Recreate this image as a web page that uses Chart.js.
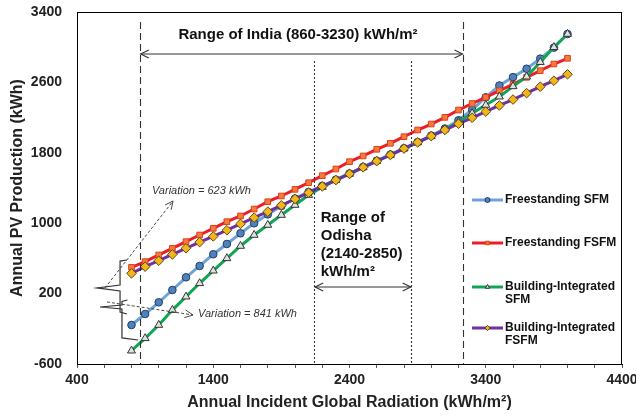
<!DOCTYPE html>
<html>
<head>
<meta charset="utf-8">
<script src="https://cdn.jsdelivr.net/npm/chart.js@4.4.1/dist/chart.umd.min.js"></script>
<style>
html, body { margin: 0; padding: 0; background: #fff; }
#wrap { width: 636px; height: 416px; }
</style>
</head>
<body>
<div id="wrap"><canvas id="pv-chart" width="636" height="416"></canvas></div>
<script>
// annual incident global radiation (kWh/m2), one point every 100
const radiation = [800, 900, 1000, 1100, 1200, 1300, 1400, 1500, 1600, 1700, 1800,
    1900, 2000, 2100, 2200, 2300, 2400, 2500, 2600, 2700, 2800, 2900, 3000,
    3100, 3200, 3300, 3400, 3500, 3600, 3700, 3800, 3900, 4000];

// annual PV production (kWh)
const freestandingSFM = [-157, -32, 101, 241, 385, 514, 647, 764, 885, 999, 1100,
    1195, 1280, 1355, 1425, 1495, 1565, 1640, 1710, 1780, 1852, 1922, 1995,
    2075, 2170, 2290, 2430, 2565, 2660, 2755, 2870, 2995, 3150];
const freestandingFSFM = [499, 563, 639, 715, 790, 866, 942, 1017, 1082, 1161, 1244,
    1309, 1385, 1460, 1540, 1616, 1699, 1764, 1840, 1908, 1983, 2059, 2127,
    2203, 2286, 2360, 2430, 2506, 2578, 2658, 2733, 2809, 2874];
const buildingSFM = [-449, -308, -157, 13, 165, 317, 460, 601, 741, 866, 980,
    1093, 1207, 1320, 1410, 1490, 1560, 1635, 1705, 1775, 1848, 1918, 1990,
    2065, 2150, 2249, 2343, 2438, 2555, 2665, 2830, 3000, 3150];
const buildingFSFM = [430, 506, 574, 645, 715, 785, 850, 920, 992, 1063, 1131,
    1203, 1275, 1347, 1418, 1490, 1560, 1635, 1705, 1775, 1848, 1918, 1990,
    2059, 2130, 2198, 2268, 2338, 2405, 2478, 2551, 2619, 2692];

const xTickLabels = [400, 1400, 2400, 3400, 4400];
const yTicks = [-600, 200, 1000, 1800, 2600, 3400];

const FONT = "'Liberation Sans', Arial, sans-serif";

function points(values) {
    return radiation.map((x, i) => ({ x: x, y: values[i] }));
}

// 图例（画在绘图区内部右侧）
const series = [
    { label: ['Freestanding SFM'], line: '#6fa3d8', fill: '#4f81bd', edge: '#1f3f66', style: 'circle' },
    { label: ['Freestanding FSFM'], line: '#ee1c24', fill: '#f7793b', edge: '#d9401f', style: 'rect' },
    { label: ['Building-Integrated', 'SFM'], line: '#12a454', fill: '#dfe3dd', edge: '#333333', style: 'triangle' },
    { label: ['Building-Integrated', 'FSFM'], line: '#7030a0', fill: '#f2b51c', edge: '#5c4a10', style: 'rectRot' }
];

function arrowHead(ctx, x1, y1, x2, y2) {
    const a = Math.atan2(y2 - y1, x2 - x1);
    const len = 9, spread = 0.45;
    ctx.beginPath();
    ctx.moveTo(x2 - len * Math.cos(a - spread), y2 - len * Math.sin(a - spread));
    ctx.lineTo(x2, y2);
    ctx.lineTo(x2 - len * Math.cos(a + spread), y2 - len * Math.sin(a + spread));
    ctx.stroke();
}

function arrow(ctx, x1, y1, x2, y2, both, dash) {
    ctx.save();
    ctx.setLineDash(dash || []);
    ctx.beginPath();
    ctx.moveTo(x1, y1);
    ctx.lineTo(x2, y2);
    ctx.stroke();
    ctx.setLineDash([]);
    arrowHead(ctx, x1, y1, x2, y2);
    if (both) arrowHead(ctx, x2, y2, x1, y1);
    ctx.restore();
}

const frame = {
    id: 'frame',
    beforeDatasetsDraw(chart) {
        const { ctx, chartArea: a } = chart;
        ctx.save();
        ctx.strokeStyle = '#000';
        ctx.lineWidth = 1;
        ctx.strokeRect(a.left + 0.5, a.top + 0.5, a.right - a.left - 1, a.bottom - a.top);
        ctx.restore();
    }
};

const annotations = {
    id: 'annotations',
    afterDatasetsDraw(chart) {
        const ctx = chart.ctx;
        const px = v => chart.scales.x.getPixelForValue(v);
        const py = v => chart.scales.y.getPixelForValue(v);
        const bottom = chart.chartArea.bottom;
        ctx.save();
        ctx.strokeStyle = '#333';
        ctx.lineWidth = 1.1;

        // India range (dashed)
        ctx.setLineDash([7, 4]);
        [860, 3230].forEach(v => {
            ctx.beginPath();
            ctx.moveTo(Math.round(px(v)) + 0.5, py(3286));
            ctx.lineTo(Math.round(px(v)) + 0.5, bottom);
            ctx.stroke();
        });
        // Odisha range (dotted)
        ctx.setLineDash([2, 2]);
        [2140, 2850].forEach(v => {
            ctx.beginPath();
            ctx.moveTo(Math.round(px(v)) + 0.5, py(2843));
            ctx.lineTo(Math.round(px(v)) + 0.5, bottom);
            ctx.stroke();
        });
        ctx.setLineDash([]);

        arrow(ctx, px(860) + 1, py(2923), px(3230), py(2923), true);
        arrow(ctx, px(2140) + 1, py(275), px(2850), py(275), true);

        // 变化量说明的箭头
        ctx.lineWidth = 0.9;
        arrow(ctx, px(605), py(264), px(1105), py(1252), false, [3, 2]);
        arrow(ctx, px(620), py(105), px(1251), py(-43), false, [3, 2]);

        // two braces on the left
        ctx.lineWidth = 1.2;
        ctx.beginPath();
        ctx.moveTo(px(767), py(582));
        ctx.lineTo(px(716), py(570));
        ctx.lineTo(px(716), py(298));
        ctx.lineTo(px(547), py(264));
        ctx.lineTo(px(716), py(230));
        ctx.lineTo(px(716), py(-9));
        ctx.lineTo(px(767), py(-32));
        ctx.stroke();
        ctx.beginPath();
        ctx.moveTo(px(770), py(127));
        ctx.lineTo(px(730), py(110));
        ctx.lineTo(px(730), py(70));
        ctx.lineTo(px(569), py(48));
        ctx.lineTo(px(730), py(25));
        ctx.lineTo(px(730), py(-304));
        ctx.lineTo(px(848), py(-327));
        ctx.stroke();

        ctx.fillStyle = '#111';
        ctx.textBaseline = 'middle';
        ctx.textAlign = 'center';
        ctx.font = 'bold 15px ' + FONT;
        ctx.fillText('Range of India (860-3230) kWh/m²', px(2022), py(3139));

        ctx.textAlign = 'left';
        ['Range of', 'Odisha', '(2140-2850)', 'kWh/m²'].forEach((t, i) => {
            ctx.fillText(t, px(2189), py(1059) + i * 18);
        });

        ctx.fillStyle = '#333';
        ctx.font = 'italic 11px ' + FONT;
        ctx.fillText('Variation = 623 kWh', px(950), py(1366));
        ctx.fillText('Variation = 841 kWh', px(1288), py(-32));
        ctx.restore();
    }
};

const legendBox = {
    id: 'legendBox',
    afterDraw(chart) {
        const { ctx, chartArea: a } = chart;
        const rows = [188, 231, 275, 316];
        const x0 = a.right - 150, x1 = a.right - 119;
        ctx.save();
        ctx.font = 'bold 12px ' + FONT;
        ctx.textBaseline = 'middle';
        ctx.fillStyle = '#111';
        series.forEach((s, i) => {
            const y = a.top + rows[i];
            ctx.strokeStyle = s.line;
            ctx.lineWidth = 3;
            ctx.beginPath();
            ctx.moveTo(x0, y);
            ctx.lineTo(x1, y);
            ctx.stroke();
            ctx.fillStyle = s.fill;
            ctx.strokeStyle = s.edge;
            ctx.lineWidth = 1;
            Chart.helpers.drawPoint(ctx, { pointStyle: s.style, radius: 2.5, borderWidth: 1 }, (x0 + x1) / 2, y);
            ctx.fillStyle = '#111';
            s.label.forEach((t, j) => ctx.fillText(t, x1 + 2, y + j * 13));
        });
        ctx.restore();
    }
};

function dataset(values, s, order, radius) {
    return {
        label: s.label.join(' '),
        data: points(values),
        borderColor: s.line,
        borderWidth: 3,
        pointStyle: s.style,
        pointRadius: radius,
        pointBackgroundColor: s.fill,
        pointBorderColor: s.edge,
        pointBorderWidth: 1,
        tension: 0,
        order: order
    };
}

new Chart(document.getElementById('pv-chart'), {
    type: 'line',
    data: {
        datasets: [
            dataset(freestandingSFM, series[0], 4, 3.8),
            dataset(freestandingFSFM, series[1], 3, 4),
            dataset(buildingSFM, series[2], 2, 4.6),
            dataset(buildingFSFM, series[3], 1, 4.8)
        ]
    },
    options: {
        responsive: false,
        animation: false,
        layout: { padding: { top: 12, right: 14, left: 0, bottom: 0 } },
        plugins: {
            legend: { display: false },
            tooltip: { enabled: false }
        },
        scales: {
            x: {
                type: 'linear',
                min: 400,
                max: 4400,
                grid: { display: true, drawOnChartArea: false, drawTicks: true, tickLength: 4, color: '#555' },
                border: { display: true, color: '#000' },
                ticks: {
                    stepSize: 200,
                    autoSkip: false,
                    maxRotation: 0,
                    padding: 4,
                    color: '#222',
                    font: { family: FONT, size: 14, weight: 'bold' },
                    callback: v => (xTickLabels.includes(v) ? String(v) : '')
                },
                title: {
                    display: true,
                    text: 'Annual Incident Global Radiation (kWh/m²)',
                    color: '#222',
                    font: { family: FONT, size: 16, weight: 'bold' },
                    padding: { top: 2, bottom: 4 }
                },
                afterFit: s => { s.height = 52; s.paddingLeft = 0; s.paddingRight = 0; }
            },
            y: {
                min: -600,
                max: 3400,
                afterBuildTicks: s => { s.ticks = yTicks.map(v => ({ value: v })); },
                grid: { display: false, drawTicks: false },
                border: { display: true, color: '#000' },
                ticks: {
                    padding: 15,
                    color: '#222',
                    font: { family: FONT, size: 14, weight: 'bold' },
                    callback: v => String(v)
                },
                title: {
                    display: true,
                    text: 'Annual PV Production (kWh)',
                    color: '#222',
                    font: { family: FONT, size: 16, weight: 'bold' },
                    padding: { top: 8, bottom: 2 }
                },
                afterFit: s => { s.width = 77; s.paddingTop = 0; s.paddingBottom = 0; }
            }
        }
    },
    plugins: [frame, annotations, legendBox]
});
</script>
</body>
</html>
